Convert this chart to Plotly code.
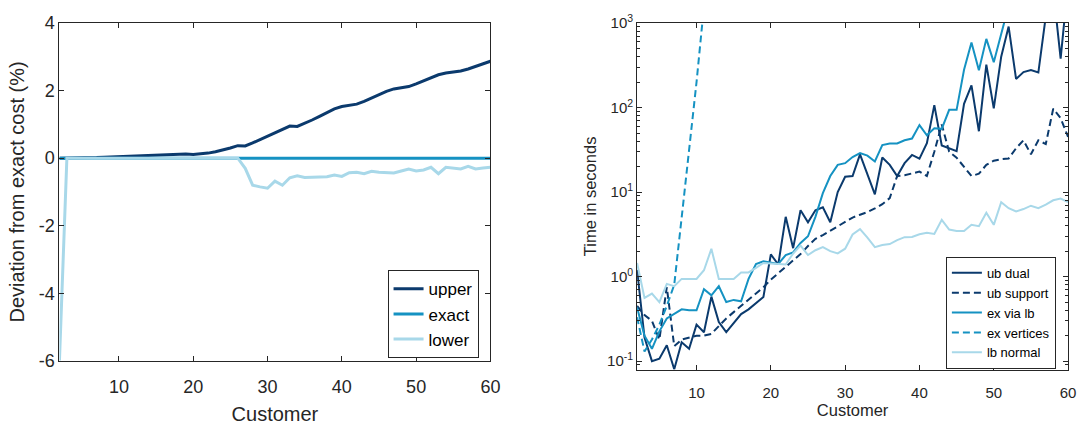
import plotly.graph_objects as go

# ---------------- data ----------------
customers = list(range(2, 61))

# left panel: deviation from exact cost (%)
upper = [0.00, 0.00, 0.00, 0.01, 0.01, 0.02, 0.03, 0.04, 0.05, 0.06,
         0.05, 0.06, 0.07, 0.08, 0.09, 0.10, 0.11, 0.12, 0.11, 0.12,
         0.15, 0.19, 0.24, 0.30, 0.37, 0.36, 0.45, 0.55, 0.65, 0.76,
         0.87, 0.95, 0.94, 1.03, 1.13, 1.24, 1.34, 1.46, 1.53, 1.56,
         1.60, 1.68, 1.78, 1.88, 1.98, 2.05, 2.09, 2.12, 2.20, 2.29,
         2.38, 2.47, 2.52, 2.55, 2.58, 2.64, 2.72, 2.80, 2.87]
exact = [0.0] * 59
lower = [-6.0, 0.0, 0.0, 0.0, 0.0, 0.0, 0.0, 0.0, 0.0, 0.0,
         0.0, 0.0, 0.0, 0.0, 0.0, 0.0, 0.0, 0.0, 0.0, 0.0,
         0.0, 0.0, 0.0, 0.0, 0.0, -0.30, -0.80, -0.85, -0.89, -0.68,
         -0.80, -0.58, -0.52, -0.57, -0.57, -0.56, -0.55, -0.50, -0.54, -0.43,
         -0.42, -0.46, -0.39, -0.42, -0.43, -0.44, -0.38, -0.32, -0.38, -0.35,
         -0.27, -0.46, -0.27, -0.30, -0.32, -0.24, -0.32, -0.29, -0.27]

# right panel: time in seconds
ub_dual = [1.2, 0.19, 0.10, 0.107, 0.154, 0.08, 0.167, 0.14, 0.27, 0.22,
           0.58, 0.29, 0.22, 0.28, 0.36, 0.41, 0.48, 0.575, 1.83, 1.39,
           5.1, 2.17, 6.1, 4.4, 6.1, 6.6, 4.4, 10, 15.2, 15.5,
           28, 15.8, 9.4, 25.7, 21, 15.5, 22, 27.5, 24.8, 38,
           107, 35.6, 32.6, 30.5, 111, 183, 52.5, 322, 98, 400,
           910, 218, 263, 278, 260, 1200, 2500, 380, 3000]
ub_support = [0.45, 0.35, 0.30, 0.18, 0.75, 0.15, 0.18, 0.19, 0.20, 0.20,
              0.21, 0.26, 0.32, 0.38, 0.45, 0.53, 0.63, 0.75, 0.92, 1.1,
              1.3, 1.55, 1.85, 2.3, 2.8, 3.1, 3.5, 3.9, 4.4, 5.0,
              5.4, 5.8, 6.4, 7.2, 8.5, 15.5, 15.8, 16.5, 17.5, 15.5,
              30, 63, 30, 25.5, 20, 15.5, 16.5, 21, 23.5, 24.5,
              25, 33, 41, 28, 41, 37, 97, 75, 45]
ex_via_lb = [0.43, 0.20, 0.14, 0.225, 0.32, 0.36, 0.41, 0.40, 0.40, 0.71,
             0.60, 0.77, 0.50, 0.53, 0.51, 0.94, 1.41, 1.52, 1.45, 1.41,
             1.8, 1.93, 2.5, 3.0, 5.1, 9.7, 15.5, 21, 22, 26,
             29, 27, 23, 36, 37.6, 37.6, 41, 43, 62, 47,
             57, 56, 94, 94, 280, 590, 277, 650, 345, 760,
             1600, None, None, None, None, None, None, None, None]
ex_vertices = [0.33, 0.13, 0.18, 0.27, 0.45, 0.8, 5, 32, 200, 1580] + [None] * 49
lb_normal = [1.45, 0.56, 0.63, 0.50, 0.82, 0.77, 0.94, 0.94, 0.94, 1.19,
             2.13, 0.94, 0.94, 0.94, 1.12, 1.12, 1.27, 1.45, 1.43, 1.41,
             1.39, 1.88, 2.33, 1.8, 2.05, 2.23, 2.0, 1.88, 2.14, 3.15,
             3.65, 2.9, 2.23, 2.37, 2.43, 2.7, 2.93, 2.95, 3.17, 3.3,
             3.2, 4.7, 3.6, 3.46, 3.46, 4.1, 3.95, 5.7, 4.1, 7.6,
             6.45, 5.9, 6.3, 6.9, 6.45, 7.1, 8.0, 8.4, 7.6]

x_ticks = [10, 20, 30, 40, 50, 60]
left_yticks = [-6, -4, -2, 0, 2, 4]
left_yticktext = ["-6", "-4", "-2", "0", "2", "4"]
right_yticks = [0.1, 1, 10, 100, 1000]
right_yticktext = ["10<sup>-1</sup>", "10<sup>0</sup>", "10<sup>1</sup>",
                   "10<sup>2</sup>", "10<sup>3</sup>"]

# ---------------- styles ----------------
DARK = "#0b3a6d"
MID = "#1592c2"
LIGHT = "#a8d8e9"
AX = "#262626"
FONT = "Liberation Sans, Arial, Helvetica, sans-serif"

fig = go.Figure()

# left panel
fig.add_trace(go.Scatter(x=customers, y=upper, mode="lines", name="upper",
                         line=dict(color=DARK, width=3), xaxis="x", yaxis="y",
                         legend="legend"))
fig.add_trace(go.Scatter(x=customers, y=exact, mode="lines", name="exact",
                         line=dict(color=MID, width=3), xaxis="x", yaxis="y",
                         legend="legend"))
fig.add_trace(go.Scatter(x=customers, y=lower, mode="lines", name="lower",
                         line=dict(color=LIGHT, width=3), xaxis="x", yaxis="y",
                         legend="legend"))

# right panel
DASH = "7px,4px"
fig.add_trace(go.Scatter(x=customers, y=ub_dual, mode="lines", name="ub dual",
                         line=dict(color=DARK, width=2), xaxis="x2", yaxis="y2",
                         legend="legend2"))
fig.add_trace(go.Scatter(x=customers, y=ub_support, mode="lines", name="ub support",
                         line=dict(color=DARK, width=2, dash=DASH), xaxis="x2", yaxis="y2",
                         legend="legend2"))
fig.add_trace(go.Scatter(x=customers, y=ex_via_lb, mode="lines", name="ex via lb",
                         line=dict(color=MID, width=2), xaxis="x2", yaxis="y2",
                         legend="legend2"))
fig.add_trace(go.Scatter(x=customers, y=ex_vertices, mode="lines", name="ex vertices",
                         line=dict(color=MID, width=2, dash=DASH), xaxis="x2", yaxis="y2",
                         legend="legend2"))
fig.add_trace(go.Scatter(x=customers, y=lb_normal, mode="lines", name="lb normal",
                         line=dict(color=LIGHT, width=2), xaxis="x2", yaxis="y2",
                         legend="legend2"))

W, H = 1086, 425

common = dict(showline=True, linecolor=AX, linewidth=1, mirror="ticks",
              ticks="inside", ticklen=5, tickcolor=AX, showgrid=False,
              zeroline=False)

fig.update_layout(
    width=W, height=H,
    margin=dict(l=0, r=0, t=0, b=0),
    paper_bgcolor="white", plot_bgcolor="white",
    font=dict(family=FONT, color=AX),
    xaxis=dict(domain=[60 / W, 495 / W], anchor="y", range=[2, 60],
               tickvals=x_ticks, tickfont=dict(size=18), ticklabelstandoff=10,
               title=dict(text="Customer", font=dict(size=20), standoff=10),
               **common),
    yaxis=dict(domain=[1 - 368 / H, 1 - 12.7 / H], anchor="x", range=[-6, 4],
               tickvals=left_yticks, ticktext=left_yticktext, tickfont=dict(size=18),
               title=dict(text="Deviation from exact cost (%)", font=dict(size=20),
                          standoff=8),
               **common),
    xaxis2=dict(domain=[643 / W, 1078 / W], anchor="y2", range=[2, 60],
                tickvals=x_ticks, tickfont=dict(size=15), ticklabelstandoff=9,
                title=dict(text="Customer", font=dict(size=16.5), standoff=2),
                **common),
    yaxis2=dict(domain=[1 - 377.3 / H, 1 - 12.7 / H], anchor="x2", type="log",
                range=[-1.101, 3], tickvals=right_yticks, ticktext=right_yticktext,
                tickfont=dict(size=15),
                minor=dict(ticks="inside", ticklen=3, tickcolor=AX,
                           tickvals=[m * 10 ** e for e in range(-2, 3) for m in range(2, 10)],
                           showgrid=False),
                title=dict(text="Time in seconds", font=dict(size=16.5), standoff=6),
                **common),
    legend=dict(x=483 / W, y=1 - 319 / H, xanchor="right", yanchor="middle",
                bordercolor=AX, borderwidth=1, bgcolor="white",
                font=dict(size=17, family=FONT, color="black"), tracegroupgap=0),
    legend2=dict(x=1065.7 / W, y=1 - 317.5 / H, xanchor="right", yanchor="middle",
                 bordercolor=AX, borderwidth=1, bgcolor="white",
                 font=dict(size=13, family=FONT, color="black"), tracegroupgap=0),
)

fig.write_html("out.html")
